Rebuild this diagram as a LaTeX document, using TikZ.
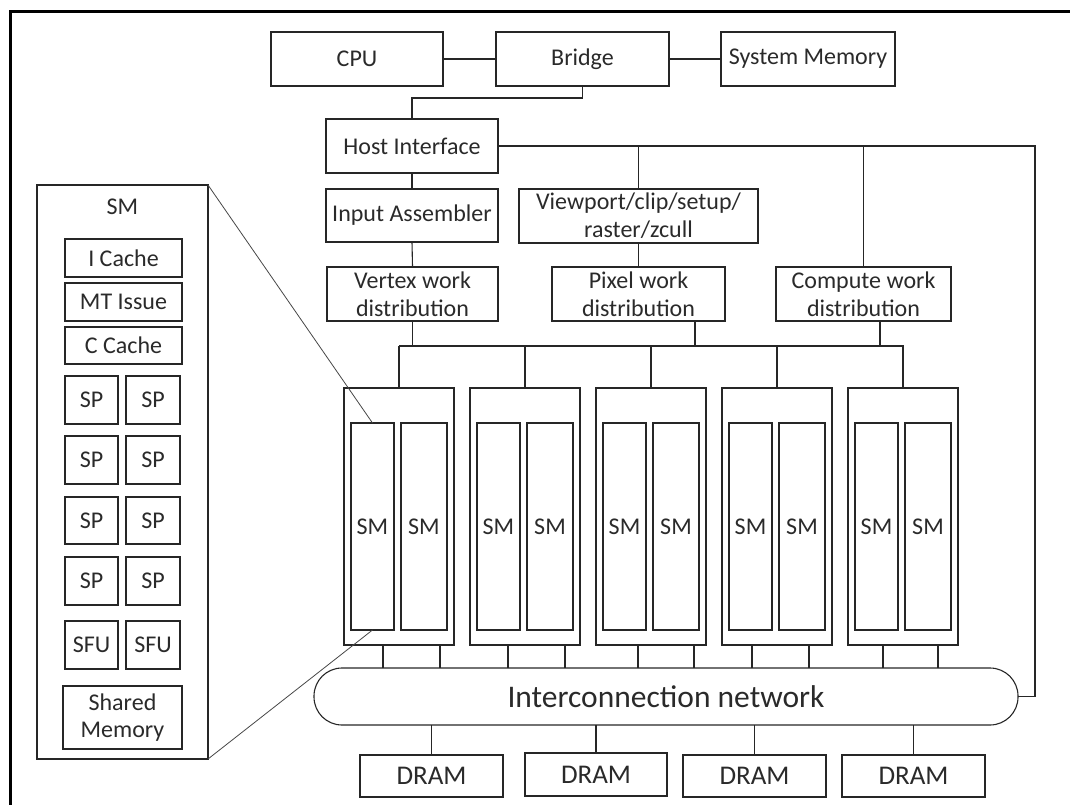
\documentclass[tikz,border=0pt]{standalone}
\usepackage{fontspec}
\setmainfont{Carlito}
\definecolor{linec}{HTML}{262626}
\definecolor{txtc}{HTML}{2A2A2A}
\tikzset{
  box/.style={draw=linec, line width=1.1pt, inner sep=0pt, outer sep=0pt,
    align=center, text=txtc, font=\fontsize{24}{28}\selectfont},
  label/.style={inner sep=0pt, text=txtc, font=\fontsize{24}{28}\selectfont},
  drambox/.style={box, font=\fontsize{27}{30}\selectfont},
  wire/.style={draw=linec, line width=1.1pt},
  zoomline/.style={draw=linec!85, line width=0.8pt},
}
% rectangle node given by its corners (x1,y1)-(x2,y2)
\newcommand\blk[7][]{%
  \node[box, #1, minimum width={(#5)-(#3)}, minimum height={(#6)-(#4)}]
    (#2) at ({((#3)+(#5))/2},{((#4)+(#6))/2}) {#7};}
\begin{document}
\begin{tikzpicture}[x=1pt,y=-1pt]
\useasboundingbox (0,0) rectangle (1070,805);
% outer frame
\draw[line width=3pt, black] (10.5,810) -- (10.5,11.5) -- (1075,11.5);

% host side
\blk{cpu}{271}{32}{443}{86}{CPU}
\blk{bridge}{496}{32}{669}{86}{Bridge}
\blk{sysmem}{721}{32}{895}{86}{System Memory}
\blk{hi}{326}{119}{498}{173}{Host Interface}
\blk{ia}{326}{189}{498}{242}{Input Assembler}
\blk{vp}{519}{189}{758}{243}{Viewport/clip/setup/\\raster/zcull}
\blk{vtx}{327}{267}{498}{321}{Vertex work\\distribution}
\blk{pix}{552}{267}{725}{321}{Pixel work\\distribution}
\blk{cmp}{776}{267}{951}{321}{Compute work\\distribution}

\draw[wire] (cpu.east) -- (bridge.west);
\draw[wire] (bridge.east) -- (sysmem.west);
\draw[wire] (bridge.south) -- ++(0,12) -| (hi.north);
\draw[wire] (hi.south) -- (ia.north);
\draw[wire] (ia.south) -- (vtx.north);
\draw[wire] (vp.south) -- (pix.north);

% interconnection network and DRAMs
\node[box, rounded corners=28pt, minimum width=704, minimum height=57,
  font=\fontsize{31.5}{36}\selectfont] (net) at (666,696.5) {Interconnection network};
\coordinate (rt) at (1035,146);
\draw[wire] (hi.east) -- (rt) |- (net.east);
\draw[wire] (vp.north) -- (vp.north |- rt);
\draw[wire] (cmp.north) -- (cmp.north |- rt);

\blk[drambox]{dram1}{360}{755}{503}{797}{DRAM}
\blk[drambox]{dram2}{525}{753}{667}{796}{DRAM}
\blk[drambox]{dram3}{683}{755}{826}{797}{DRAM}
\blk[drambox]{dram4}{842}{755}{985}{797}{DRAM}
\foreach \d in {1,...,4}
  \draw[wire] (net.south -| dram\d.north) -- (dram\d.north);

% work distribution bus
\coordinate (barL) at (399,346);
\coordinate (barR) at (904,346);
\draw[wire] (barL) -- (barR);
\draw[wire] (vtx.south) -- (vtx.south |- barL);
\draw[wire] ([xshift=56.5pt]pix.south) -- ([xshift=56.5pt]pix.south |- barL);
\draw[wire] ([xshift=16.5pt]cmp.south) -- ([xshift=16.5pt]cmp.south |- barL);

% texture/processor clusters with two SMs each
\foreach \i/\xo/\sa/\sb in {1/344/383/440,2/470/508/565,3/596/638/694,4/722/752/809,5/848/883/938}{
  \blk{cl\i}{\xo}{388}{\xo+110}{645}{}
  \blk{sma\i}{\xo+7}{423}{\xo+50}{630}{SM}
  \blk{smb\i}{\xo+57}{423}{\xo+103}{630}{SM}
  \draw[wire] (cl\i.north) -- (cl\i.north |- barL);
  \coordinate (xa) at (\sa,0);
  \coordinate (xb) at (\sb,0);
  \draw[wire] (cl\i.south -| xa) -- (net.north -| xa);
  \draw[wire] (cl\i.south -| xb) -- (net.north -| xb);
}

% expanded view of one SM
\blk{smp}{37}{185}{208}{759}{}
\node[label] (smt) at (122.5,207) {SM};
\blk{icache}{65}{239}{182}{277}{I Cache}
\blk{mtissue}{65}{283}{182}{321}{MT Issue}
\blk{ccache}{65}{327}{182}{364}{C Cache}
\foreach \r/\ya/\yb in {1/376/424,2/436/484,3/497/544,4/557/605}{
  \blk{spl\r}{65}{\ya}{118}{\yb}{SP}
  \blk{spr\r}{126}{\ya}{180}{\yb}{SP}
}
\blk{sful}{65}{621}{118}{669}{SFU}
\blk{sfur}{126}{621}{180}{669}{SFU}
\node[box, minimum width=119, minimum height=63,
  font=\fontsize{24}{27}\selectfont] (shmem) at (122.5,717.5) {Shared\\Memory};

\draw[zoomline] (smp.north east) -- (sma1.north);
\draw[zoomline] (smp.south east) -- (sma1.south);
\end{tikzpicture}
\end{document}
